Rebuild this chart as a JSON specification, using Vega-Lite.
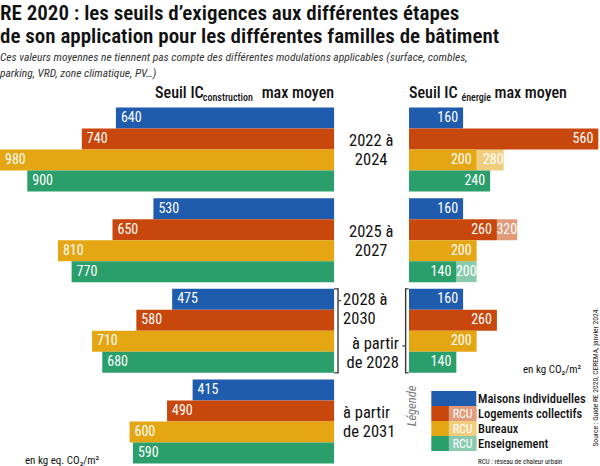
{
  "$schema": "https://vega.github.io/schema/vega-lite/v6.json",
  "width": 600,
  "height": 359,
  "autosize": "none",
  "padding": {"top": 106, "left": 0, "right": 0, "bottom": 1},
  "background": "white",
  "title": {
    "text": ["RE 2020 : les seuils d’exigences aux différentes étapes", "de son application pour les différentes familles de bâtiment"],
    "subtitle": ["Ces valeurs moyennes ne tiennent pas compte des différentes modulations applicables (surface, combles,", "parking, VRD, zone climatique, PV…)"],
    "anchor": "start",
    "frame": "group",
    "offset": 6,
    "font": "Roboto Condensed, Liberation Sans Narrow, DejaVu Sans Condensed, Roboto, sans-serif",
    "fontSize": 21,
    "fontWeight": 600,
    "color": "#111111",
    "lineHeight": 23,
    "subtitleFont": "Roboto Condensed, Liberation Sans Narrow, DejaVu Sans Condensed, Roboto, sans-serif",
    "subtitleFontSize": 11.5,
    "subtitleFontStyle": "italic",
    "subtitleColor": "#333333",
    "subtitleLineHeight": 16,
    "subtitlePadding": 5
  },
  "datasets": {
    "ic_construction": [
      {"periode": "2022 à 2024", "famille": "Maisons individuelles", "valeur": 640},
      {"periode": "2022 à 2024", "famille": "Logements collectifs", "valeur": 740},
      {"periode": "2022 à 2024", "famille": "Bureaux", "valeur": 980},
      {"periode": "2022 à 2024", "famille": "Enseignement", "valeur": 900},
      {"periode": "2025 à 2027", "famille": "Maisons individuelles", "valeur": 530},
      {"periode": "2025 à 2027", "famille": "Logements collectifs", "valeur": 650},
      {"periode": "2025 à 2027", "famille": "Bureaux", "valeur": 810},
      {"periode": "2025 à 2027", "famille": "Enseignement", "valeur": 770},
      {"periode": "2028 à 2030", "famille": "Maisons individuelles", "valeur": 475},
      {"periode": "2028 à 2030", "famille": "Logements collectifs", "valeur": 580},
      {"periode": "2028 à 2030", "famille": "Bureaux", "valeur": 710},
      {"periode": "2028 à 2030", "famille": "Enseignement", "valeur": 680},
      {"periode": "à partir de 2031", "famille": "Maisons individuelles", "valeur": 415},
      {"periode": "à partir de 2031", "famille": "Logements collectifs", "valeur": 490},
      {"periode": "à partir de 2031", "famille": "Bureaux", "valeur": 600},
      {"periode": "à partir de 2031", "famille": "Enseignement", "valeur": 590}
    ],
    "ic_energie": [
      {"periode": "2022 à 2024", "famille": "Maisons individuelles", "valeur": 160, "rcu": null},
      {"periode": "2022 à 2024", "famille": "Logements collectifs", "valeur": 560, "rcu": null},
      {"periode": "2022 à 2024", "famille": "Bureaux", "valeur": 200, "rcu": 280},
      {"periode": "2022 à 2024", "famille": "Enseignement", "valeur": 240, "rcu": null},
      {"periode": "2025 à 2027", "famille": "Maisons individuelles", "valeur": 160, "rcu": null},
      {"periode": "2025 à 2027", "famille": "Logements collectifs", "valeur": 260, "rcu": 320},
      {"periode": "2025 à 2027", "famille": "Bureaux", "valeur": 200, "rcu": null},
      {"periode": "2025 à 2027", "famille": "Enseignement", "valeur": 140, "rcu": 200},
      {"periode": "2028 à 2030", "famille": "Maisons individuelles", "valeur": 160, "rcu": null},
      {"periode": "2028 à 2030", "famille": "Logements collectifs", "valeur": 260, "rcu": null},
      {"periode": "2028 à 2030", "famille": "Bureaux", "valeur": 200, "rcu": null},
      {"periode": "2028 à 2030", "famille": "Enseignement", "valeur": 140, "rcu": null}
    ],
    "periodes": [
      {"periode": "2022 à 2024", "label": "2022 à\n2024"},
      {"periode": "2025 à 2027", "label": "2025 à\n2027"}
    ],
    "legende": [
      {"famille": "Maisons individuelles", "rcu": false},
      {"famille": "Logements collectifs", "rcu": true},
      {"famille": "Bureaux", "rcu": true},
      {"famille": "Enseignement", "rcu": true}
    ]
  },
  "layer": [
    {
      "layer": [
        {
          "layer": [
            {
              "data": {"name": "ic_construction"},
              "mark": {"type": "bar"},
              "encoding": {
                "y": {"field": "periode", "type": "nominal", "axis": null, "scale": {"domain": ["2022 à 2024", "2025 à 2027", "2028 à 2030", "à partir de 2031"], "paddingInner": 0.074, "paddingOuter": 0.016}},
                "yOffset": {"field": "famille", "type": "nominal", "scale": {"domain": ["Maisons individuelles", "Logements collectifs", "Bureaux", "Enseignement"], "paddingInner": 0, "paddingOuter": 0}},
                "x": {"field": "valeur", "type": "quantitative", "axis": null, "scale": {"domain": [-780, 980], "reverse": true, "nice": false, "zero": false}},
                "x2": {"datum": 0},
                "color": {"field": "famille", "type": "nominal", "legend": null, "scale": {"domain": ["Maisons individuelles", "Logements collectifs", "Bureaux", "Enseignement"], "range": ["#1f5cad", "#c8470c", "#e5a614", "#2a9e6b"]}}
              }
            },
            {
              "data": {"name": "ic_construction"},
              "mark": {"type": "text", "align": "left", "baseline": "middle", "dx": 5, "color": "white", "fontSize": 14, "fontWeight": 400, "font": "Roboto Condensed, Liberation Sans Narrow, DejaVu Sans Condensed, Roboto, sans-serif"},
              "encoding": {
                "y": {"field": "periode", "type": "nominal"},
                "yOffset": {"field": "famille", "type": "nominal"},
                "x": {"field": "valeur", "type": "quantitative"},
                "text": {"field": "valeur", "type": "quantitative"}
              }
            },
            {
              "data": {"values": [{}]},
              "mark": {"type": "text", "text": "Seuil IC", "align": "left", "baseline": "alphabetic", "dy": -9, "fontSize": 16, "fontWeight": 500, "color": "#111111", "font": "Roboto Condensed, Liberation Sans Narrow, DejaVu Sans Condensed, Roboto, sans-serif"},
              "encoding": {
                "x": {"datum": 525},
                "y": {"datum": "2022 à 2024", "type": "nominal", "bandPosition": 0}
              }
            },
            {
              "data": {"values": [{}]},
              "mark": {"type": "text", "text": "construction", "align": "left", "baseline": "alphabetic", "dy": -6, "fontSize": 10, "fontWeight": 500, "color": "#111111", "font": "Roboto Condensed, Liberation Sans Narrow, DejaVu Sans Condensed, Roboto, sans-serif"},
              "encoding": {
                "x": {"datum": 385},
                "y": {"datum": "2022 à 2024", "type": "nominal", "bandPosition": 0}
              }
            },
            {
              "data": {"values": [{}]},
              "mark": {"type": "text", "text": "max moyen", "align": "right", "baseline": "alphabetic", "dy": -9, "fontSize": 16, "fontWeight": 500, "color": "#111111", "font": "Roboto Condensed, Liberation Sans Narrow, DejaVu Sans Condensed, Roboto, sans-serif"},
              "encoding": {
                "x": {"datum": 0},
                "y": {"datum": "2022 à 2024", "type": "nominal", "bandPosition": 0}
              }
            },
            {
              "data": {"values": [{}]},
              "mark": {"type": "text", "text": "en kg eq. CO₂/m²", "align": "left", "baseline": "alphabetic", "dy": 0, "fontSize": 11, "color": "#111111", "font": "Roboto Condensed, Liberation Sans Narrow, DejaVu Sans Condensed, Roboto, sans-serif"},
              "encoding": {
                "x": {"datum": 907},
                "y": {"datum": "à partir de 2031", "type": "nominal", "bandPosition": 1}
              }
            },
            {
              "data": {"values": [{}]},
              "mark": {"type": "bar", "color": "#333333"},
              "encoding": {
                "x": {"datum": -9.5},
                "x2": {"datum": -13.5},
                "y": {"datum": "2028 à 2030", "type": "nominal"}
              }
            },
            {
              "data": {"values": [{}]},
              "mark": {"type": "rule", "color": "#333333", "strokeWidth": 1.2},
              "encoding": {
                "x": {"datum": 0},
                "x2": {"datum": -13.5},
                "y": {"datum": "2028 à 2030", "type": "nominal", "bandPosition": 0}
              }
            },
            {
              "data": {"values": [{}]},
              "mark": {"type": "rule", "color": "#333333", "strokeWidth": 1.2},
              "encoding": {
                "x": {"datum": 0},
                "x2": {"datum": -13.5},
                "y": {"datum": "2028 à 2030", "type": "nominal", "bandPosition": 1}
              }
            },
            {
              "data": {"values": [{}]},
              "mark": {"type": "rule", "color": "#333333", "strokeWidth": 1.2},
              "encoding": {
                "x": {"datum": -13.5},
                "x2": {"datum": -20},
                "y": {"datum": "2028 à 2030", "type": "nominal", "bandPosition": 0.14}
              }
            }
          ]
        },
        {
          "layer": [
            {
              "data": {"name": "ic_energie"},
              "transform": [{"filter": "datum.rcu != null"}],
              "mark": {"type": "bar", "opacity": 0.55},
              "encoding": {
                "y": {"field": "periode", "type": "nominal", "axis": null, "scale": {"domain": ["2022 à 2024", "2025 à 2027", "2028 à 2030", "à partir de 2031"], "paddingInner": 0.074, "paddingOuter": 0.016}},
                "yOffset": {"field": "famille", "type": "nominal"},
                "x": {"field": "rcu", "type": "quantitative", "axis": null, "scale": {"domain": [-1210, 565], "nice": false, "zero": false}},
                "x2": {"field": "valeur"},
                "color": {"field": "famille", "type": "nominal", "legend": null}
              }
            },
            {
              "data": {"name": "ic_energie"},
              "mark": {"type": "bar"},
              "encoding": {
                "y": {"field": "periode", "type": "nominal"},
                "yOffset": {"field": "famille", "type": "nominal"},
                "x": {"field": "valeur", "type": "quantitative"},
                "x2": {"datum": 0},
                "color": {"field": "famille", "type": "nominal", "legend": null}
              }
            },
            {
              "data": {"name": "ic_energie"},
              "mark": {"type": "text", "align": "right", "baseline": "middle", "dx": -5, "color": "white", "fontSize": 14, "fontWeight": 400, "font": "Roboto Condensed, Liberation Sans Narrow, DejaVu Sans Condensed, Roboto, sans-serif"},
              "encoding": {
                "y": {"field": "periode", "type": "nominal"},
                "yOffset": {"field": "famille", "type": "nominal"},
                "x": {"field": "valeur", "type": "quantitative"},
                "text": {"field": "valeur", "type": "quantitative"}
              }
            },
            {
              "data": {"name": "ic_energie"},
              "transform": [{"filter": "datum.rcu != null"}],
              "mark": {"type": "text", "align": "right", "baseline": "middle", "dx": 0, "color": "white", "fontSize": 14, "fontWeight": 400, "font": "Roboto Condensed, Liberation Sans Narrow, DejaVu Sans Condensed, Roboto, sans-serif"},
              "encoding": {
                "y": {"field": "periode", "type": "nominal"},
                "yOffset": {"field": "famille", "type": "nominal"},
                "x": {"field": "rcu", "type": "quantitative"},
                "text": {"field": "rcu", "type": "quantitative"}
              }
            },
            {
              "data": {"values": [{}]},
              "mark": {"type": "text", "text": "Seuil IC", "align": "left", "baseline": "alphabetic", "dy": -9, "fontSize": 16, "fontWeight": 500, "color": "#111111", "font": "Roboto Condensed, Liberation Sans Narrow, DejaVu Sans Condensed, Roboto, sans-serif"},
              "encoding": {
                "x": {"datum": 0},
                "y": {"datum": "2022 à 2024", "type": "nominal", "bandPosition": 0}
              }
            },
            {
              "data": {"values": [{}]},
              "mark": {"type": "text", "text": "énergie", "align": "left", "baseline": "alphabetic", "dy": -6, "fontSize": 10, "fontWeight": 500, "color": "#111111", "font": "Roboto Condensed, Liberation Sans Narrow, DejaVu Sans Condensed, Roboto, sans-serif"},
              "encoding": {
                "x": {"datum": 155},
                "y": {"datum": "2022 à 2024", "type": "nominal", "bandPosition": 0}
              }
            },
            {
              "data": {"values": [{}]},
              "mark": {"type": "text", "text": "max moyen", "align": "right", "baseline": "alphabetic", "dy": -9, "fontSize": 16, "fontWeight": 500, "color": "#111111", "font": "Roboto Condensed, Liberation Sans Narrow, DejaVu Sans Condensed, Roboto, sans-serif"},
              "encoding": {
                "x": {"datum": 467},
                "y": {"datum": "2022 à 2024", "type": "nominal", "bandPosition": 0}
              }
            },
            {
              "data": {"name": "periodes"},
              "mark": {"type": "text", "align": "center", "baseline": "middle", "dy": -8, "lineBreak": "\n", "lineHeight": 19, "fontSize": 16.5, "fontWeight": 400, "color": "#111111", "font": "Roboto Condensed, Liberation Sans Narrow, DejaVu Sans Condensed, Roboto, sans-serif"},
              "encoding": {
                "x": {"datum": -112},
                "y": {"field": "periode", "type": "nominal"},
                "text": {"field": "label", "type": "nominal"}
              }
            },
            {
              "data": {"values": [{}]},
              "mark": {"type": "text", "text": ["2028 à", "2030"], "align": "left", "baseline": "middle", "dy": -9.5, "lineHeight": 19, "fontSize": 16.5, "fontWeight": 400, "color": "#111111", "font": "Roboto Condensed, Liberation Sans Narrow, DejaVu Sans Condensed, Roboto, sans-serif"},
              "encoding": {
                "x": {"datum": -195},
                "y": {"datum": "2028 à 2030", "type": "nominal", "bandPosition": 0.25}
              }
            },
            {
              "data": {"values": [{}]},
              "mark": {"type": "text", "text": ["à partir", "de 2028"], "align": "right", "baseline": "middle", "dy": -9.5, "lineHeight": 19, "fontSize": 16.5, "fontWeight": 400, "color": "#111111", "font": "Roboto Condensed, Liberation Sans Narrow, DejaVu Sans Condensed, Roboto, sans-serif"},
              "encoding": {
                "x": {"datum": -30},
                "y": {"datum": "2028 à 2030", "type": "nominal", "bandPosition": 0.77}
              }
            },
            {
              "data": {"values": [{}]},
              "mark": {"type": "text", "text": ["à partir", "de 2031"], "align": "left", "baseline": "middle", "dy": -9, "lineHeight": 19, "fontSize": 16.5, "fontWeight": 400, "color": "#111111", "font": "Roboto Condensed, Liberation Sans Narrow, DejaVu Sans Condensed, Roboto, sans-serif"},
              "encoding": {
                "x": {"datum": -195},
                "y": {"datum": "à partir de 2031", "type": "nominal", "bandPosition": 0.5}
              }
            },
            {
              "data": {"values": [{}]},
              "mark": {"type": "bar", "color": "#333333"},
              "encoding": {
                "x": {"datum": -8},
                "x2": {"datum": -12},
                "y": {"datum": "2028 à 2030", "type": "nominal"}
              }
            },
            {
              "data": {"values": [{}]},
              "mark": {"type": "rule", "color": "#333333", "strokeWidth": 1.2},
              "encoding": {
                "x": {"datum": -12},
                "x2": {"datum": -1},
                "y": {"datum": "2028 à 2030", "type": "nominal", "bandPosition": 0}
              }
            },
            {
              "data": {"values": [{}]},
              "mark": {"type": "rule", "color": "#333333", "strokeWidth": 1.2},
              "encoding": {
                "x": {"datum": -12},
                "x2": {"datum": -1},
                "y": {"datum": "2028 à 2030", "type": "nominal", "bandPosition": 1}
              }
            },
            {
              "data": {"values": [{}]},
              "mark": {"type": "rule", "color": "#333333", "strokeWidth": 1.2},
              "encoding": {
                "x": {"datum": -12},
                "x2": {"datum": -20},
                "y": {"datum": "2028 à 2030", "type": "nominal", "bandPosition": 0.68}
              }
            },
            {
              "data": {"values": [{}]},
              "mark": {"type": "text", "text": "en kg CO₂/m²", "align": "left", "baseline": "alphabetic", "fontSize": 11, "color": "#111111", "font": "Roboto Condensed, Liberation Sans Narrow, DejaVu Sans Condensed, Roboto, sans-serif"},
              "encoding": {
                "x": {"datum": 337},
                "y": {"datum": "2028 à 2030", "type": "nominal", "bandPosition": 1}
              }
            },
            {
              "data": {"values": [{}]},
              "mark": {"type": "text", "text": "Source : Guide RE 2020, CEREMA, janvier 2024.", "align": "center", "baseline": "middle", "angle": 270, "fontSize": 7.5, "color": "#222222", "font": "Roboto Condensed, Liberation Sans Narrow, DejaVu Sans Condensed, Roboto, sans-serif"},
              "encoding": {
                "x": {"datum": 553},
                "y": {"datum": "2028 à 2030", "type": "nominal", "bandPosition": 1.05}
              }
            }
          ]
        }
      ],
      "resolve": {"scale": {"x": "independent"}}
    },
    {
      "data": {"name": "legende"},
      "layer": [
        {
          "mark": {"type": "bar"},
          "encoding": {
            "y": {"field": "famille", "type": "nominal", "axis": null, "scale": {"domain": ["Maisons individuelles", "Logements collectifs", "Bureaux", "Enseignement"], "range": [285, 345], "paddingInner": 0, "paddingOuter": 0}},
            "x": {"datum": 66, "type": "quantitative", "axis": null, "scale": {"domain": [-1210, 565], "nice": false, "zero": false}},
            "x2": {"datum": 199},
            "color": {"field": "famille", "type": "nominal", "legend": null}
          }
        },
        {
          "transform": [{"filter": "datum.rcu"}],
          "mark": {"type": "bar", "color": "white"},
          "encoding": {
            "y": {"field": "famille", "type": "nominal"},
            "x": {"datum": 118, "type": "quantitative"},
            "x2": {"datum": 199}
          }
        },
        {
          "transform": [{"filter": "datum.rcu"}],
          "mark": {"type": "bar", "opacity": 0.55},
          "encoding": {
            "y": {"field": "famille", "type": "nominal"},
            "x": {"datum": 118, "type": "quantitative"},
            "x2": {"datum": 199},
            "color": {"field": "famille", "type": "nominal", "legend": null}
          }
        },
        {
          "transform": [{"filter": "datum.rcu"}],
          "mark": {"type": "text", "text": "RCU", "align": "center", "baseline": "middle", "color": "white", "fontSize": 12, "font": "Roboto Condensed, Liberation Sans Narrow, DejaVu Sans Condensed, Roboto, sans-serif"},
          "encoding": {
            "y": {"field": "famille", "type": "nominal"},
            "x": {"datum": 158.5, "type": "quantitative"}
          }
        },
        {
          "mark": {"type": "text", "align": "left", "baseline": "middle", "color": "#111111", "fontSize": 12.5, "fontWeight": 500, "font": "Roboto Condensed, Liberation Sans Narrow, DejaVu Sans Condensed, Roboto, sans-serif"},
          "encoding": {
            "y": {"field": "famille", "type": "nominal"},
            "x": {"datum": 204, "type": "quantitative"},
            "text": {"field": "famille", "type": "nominal"}
          }
        },
        {
          "data": {"values": [{}]},
          "mark": {"type": "text", "text": "Légende", "align": "center", "baseline": "middle", "angle": 270, "fontStyle": "italic", "color": "#777777", "fontSize": 12.5, "font": "Roboto Condensed, Liberation Sans Narrow, DejaVu Sans Condensed, Roboto, sans-serif"},
          "encoding": {
            "y": {"datum": "Maisons individuelles", "type": "nominal", "bandPosition": 1},
            "x": {"datum": 9, "type": "quantitative"}
          }
        },
        {
          "data": {"values": [{}]},
          "mark": {"type": "text", "text": "RCU : réseau de chaleur urbain", "align": "left", "baseline": "middle", "color": "#111111", "fontSize": 7, "font": "Roboto Condensed, Liberation Sans Narrow, DejaVu Sans Condensed, Roboto, sans-serif"},
          "encoding": {
            "y": {"datum": "Enseignement", "type": "nominal", "bandPosition": 1.73},
            "x": {"datum": 204, "type": "quantitative"}
          }
        }
      ]
    }
  ],
  "resolve": {"scale": {"x": "independent", "y": "independent"}},
  "config": {
    "view": {"stroke": null},
    "axis": {"disable": true},
    "legend": {"disable": true}
  }
}
